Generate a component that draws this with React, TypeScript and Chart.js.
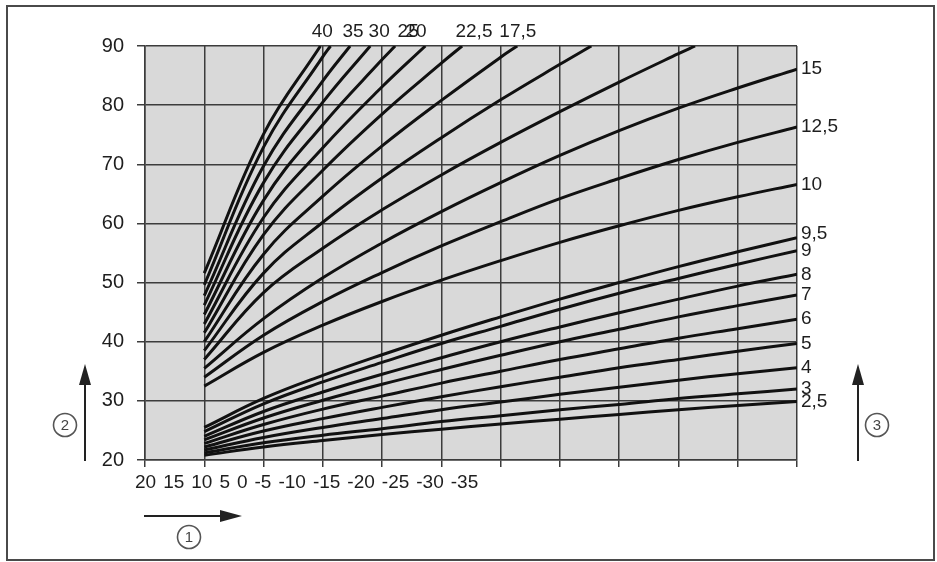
import React, { useEffect, useRef } from "react";
import { Chart, registerables } from "chart.js";

Chart.register(...registerables);

// ---------- data ----------
// x positions (grid units, 0 = left edge of the plot)
const xAt = [1, 2, 3, 4, 5, 6, 7, 8, 9, 10, 11];
const xMin = 0;
const xMax = 11;
const yMin = 20;
const yMax = 90;
const yStep = 10;

// outdoor temperature labels under the x axis
const bottomTickLabels = ["20", "15", "10", "5", "0", "-5", "-10", "-15", "-20", "-25", "-30", "-35"];

// curves that end at the right edge (values at xAt)
const c2_5 = [20.8, 22.2, 23.3, 24.3, 25.2, 26.1, 26.9, 27.7, 28.5, 29.2, 29.9];
const c3 = [21.2, 22.9, 24.2, 25.3, 26.5, 27.5, 28.5, 29.4, 30.4, 31.2, 32.0];
const c4 = [21.7, 23.8, 25.5, 27.0, 28.5, 29.8, 31.1, 32.3, 33.5, 34.6, 35.6];
const c5 = [22.2, 24.9, 27.0, 28.9, 30.7, 32.4, 34.0, 35.6, 37.0, 38.4, 39.7];
const c6 = [22.8, 26.0, 28.6, 30.8, 33.0, 35.0, 37.0, 38.8, 40.6, 42.2, 43.8];
const c7 = [23.4, 27.1, 30.1, 32.8, 35.3, 37.7, 40.0, 42.1, 44.2, 46.1, 47.9];
const c8 = [24.0, 28.2, 31.5, 34.5, 37.3, 40.0, 42.5, 44.9, 47.2, 49.4, 51.4];
const c9 = [24.8, 29.5, 33.2, 36.5, 39.7, 42.6, 45.5, 48.2, 50.7, 53.1, 55.4];
const c9_5 = [25.5, 30.4, 34.3, 37.8, 41.1, 44.2, 47.2, 50.0, 52.7, 55.2, 57.6];
const c10 = [32.5, 38.2, 42.8, 46.8, 50.4, 53.7, 56.8, 59.6, 62.2, 64.5, 66.6];
const c12_5 = [34.0, 41.1, 46.8, 51.7, 56.2, 60.3, 64.2, 67.6, 70.8, 73.7, 76.3];
const c15 = [35.5, 43.9, 50.8, 56.7, 62.0, 66.9, 71.5, 75.7, 79.5, 82.9, 86.1];

const rightSeries = [c2_5, c3, c4, c5, c6, c7, c8, c9, c9_5, c10, c12_5, c15];
const rightLabels = ["2,5", "3", "4", "5", "6", "7", "8", "9", "9,5", "10", "12,5", "15"];

// curves that leave through the top (values at xAt until they exit, then exit x at 90)
const t1 = [51.6, 75.1];
const t2 = [49.6, 72.9, 88.2];
const t3 = [47.8, 69.7, 84.1];
const t4 = [46.2, 66.9, 80.5];
const t5 = [44.6, 63.9, 76.7, 87.7];
const t6 = [43.0, 61.0, 72.8, 83.1];
const t7 = [41.5, 58.1, 69.0, 78.5, 87.1];
const t8 = [40.0, 54.8, 64.6, 73.1, 80.8, 88.1];
const t9 = [38.5, 51.6, 60.2, 67.7, 74.5, 80.9, 86.9];
const t10 = [37.0, 48.3, 55.8, 62.3, 68.2, 73.7, 78.9, 83.9, 88.7];
const topSeries = [t1, t2, t3, t4, t5, t6, t7, t8, t9, t10];
const topExitX = [2.96, 3.13, 3.46, 3.8, 4.22, 4.73, 5.35, 6.28, 7.53, 9.28];

// labels printed above the plot (centre in x grid units)
const topLabels = ["40", "35", "30", "25", "20", "22,5", "17,5"];
const topLabelAt = [2.99, 3.51, 3.95, 4.44, 4.57, 5.55, 6.29];

// ---------- style ----------
const FONT = "'Liberation Sans', Arial, Helvetica, sans-serif";
const TEXT = "#1e1e1e";
const GRID = "#3c3c3c";
const PLOT_BG = "#d9d9d9";
const CURVE = "#111111";
const rightLabelDy = [0, 0, 0, 0, 0, 0, 0, 0, -4, 0, 0, 0];

function drawCircleNum(ctx: CanvasRenderingContext2D, cx: number, cy: number, t: string) {
  ctx.beginPath();
  ctx.arc(cx, cy, 11.5, 0, Math.PI * 2);
  ctx.strokeStyle = "#555";
  ctx.lineWidth = 1.6;
  ctx.stroke();
  ctx.fillStyle = "#444";
  ctx.font = `15px ${FONT}`;
  ctx.textAlign = "center";
  ctx.textBaseline = "middle";
  ctx.fillText(t, cx, cy + 1);
}

function arrowUp(ctx: CanvasRenderingContext2D, x: number, y0: number, y1: number) {
  ctx.strokeStyle = "#222";
  ctx.fillStyle = "#222";
  ctx.lineWidth = 2;
  ctx.beginPath();
  ctx.moveTo(x, y0);
  ctx.lineTo(x, y1 + 18);
  ctx.stroke();
  ctx.beginPath();
  ctx.moveTo(x, y1);
  ctx.lineTo(x - 6, y1 + 21);
  ctx.lineTo(x + 6, y1 + 21);
  ctx.closePath();
  ctx.fill();
}

function arrowRight(ctx: CanvasRenderingContext2D, y: number, x0: number, x1: number) {
  ctx.strokeStyle = "#222";
  ctx.fillStyle = "#222";
  ctx.lineWidth = 2;
  ctx.beginPath();
  ctx.moveTo(x0, y);
  ctx.lineTo(x1 - 18, y);
  ctx.stroke();
  ctx.beginPath();
  ctx.moveTo(x1, y);
  ctx.lineTo(x1 - 22, y - 6);
  ctx.lineTo(x1 - 22, y + 6);
  ctx.closePath();
  ctx.fill();
}

const decor = {
  id: "decor",
  beforeDraw(chart: any) {
    const { ctx, chartArea: a } = chart;
    ctx.save();
    ctx.fillStyle = "#ffffff";
    ctx.fillRect(0, 0, chart.width, chart.height);
    ctx.fillStyle = PLOT_BG;
    ctx.fillRect(a.left, a.top, a.right - a.left, a.bottom - a.top);
    ctx.restore();
  },
  afterDraw(chart: any) {
    const { ctx, chartArea: a, scales } = chart;
    const xs = scales.x;
    const ys = scales.y;
    ctx.save();

    // outer frame
    ctx.strokeStyle = "#4a4a4a";
    ctx.lineWidth = 2;
    ctx.strokeRect(7, 6, 927, 554);

    // bottom x labels (printed as a run of text)
    ctx.fillStyle = TEXT;
    ctx.font = `19px ${FONT}`;
    ctx.textAlign = "left";
    ctx.textBaseline = "middle";
    let cx = a.left - 10;
    for (const t of bottomTickLabels) {
      ctx.fillText(t, cx, a.bottom + 23);
      cx += ctx.measureText(t).width + 7;
    }

    // top labels
    ctx.textAlign = "center";
    ctx.textBaseline = "middle";
    topLabels.forEach((t, i) => {
      ctx.fillText(t, xs.getPixelForValue(topLabelAt[i]), a.top - 14);
    });

    // right labels at curve ends
    ctx.textAlign = "left";
    rightLabels.forEach((t, i) => {
      const s = rightSeries[i];
      const y = ys.getPixelForValue(s[s.length - 1]) + rightLabelDy[i];
      ctx.fillText(t, a.right + 4, y);
    });

    // arrows and circled numbers
    arrowRight(ctx, a.bottom + 56, a.left - 1, a.left + 97);
    drawCircleNum(ctx, a.left + 44, a.bottom + 77, "1");
    arrowUp(ctx, 85, a.bottom + 1, a.bottom - 96);
    drawCircleNum(ctx, 65, a.bottom - 35, "2");
    arrowUp(ctx, 858, a.bottom + 1, a.bottom - 96);
    drawCircleNum(ctx, 877, a.bottom - 35, "3");

    ctx.restore();
  },
};

export default function App() {
  const ref = useRef<HTMLCanvasElement | null>(null);

  useEffect(() => {
    if (!ref.current) return;
    Chart.defaults.font.family = FONT;

    const lineStyle = {
      borderColor: CURVE,
      borderWidth: 3,
      pointRadius: 0,
      fill: false,
      tension: 0.4,
    };

    const datasets: any[] = [];
    rightSeries.forEach((s, i) => {
      datasets.push({
        label: rightLabels[i],
        data: s.map((y, k) => ({ x: xAt[k], y })),
        ...lineStyle,
      });
    });
    topSeries.forEach((s, i) => {
      datasets.push({
        label: "top" + i,
        data: s.map((y, k) => ({ x: xAt[k], y })).concat([{ x: topExitX[i], y: yMax }]),
        ...lineStyle,
      });
    });

    const chart = new Chart(ref.current, {
      type: "line",
      data: { datasets },
      options: {
        animation: false,
        responsive: false,
        devicePixelRatio: 1,
        layout: { padding: { top: 46, right: 140, bottom: 0, left: 0 } },
        plugins: { legend: { display: false }, tooltip: { enabled: false } },
        scales: {
          x: {
            type: "linear",
            min: xMin,
            max: xMax,
            ticks: { stepSize: 1, display: false },
            grid: { color: GRID, lineWidth: 1.5, tickLength: 7, drawTicks: true },
            border: { color: GRID, width: 1.5 },
            afterFit: (s: any) => {
              s.height = 102;
            },
          },
          y: {
            type: "linear",
            min: yMin,
            max: yMax,
            ticks: {
              stepSize: yStep,
              color: TEXT,
              padding: 13,
              font: { size: 20, family: FONT },
            },
            grid: { color: GRID, lineWidth: 1.5, tickLength: 8, drawTicks: true },
            border: { color: GRID, width: 1.5 },
            afterFit: (s: any) => {
              s.width = 145;
            },
          },
        },
      },
      plugins: [decor],
    } as any);

    return () => chart.destroy();
  }, []);

  return (
    <div style={{ position: "absolute", left: 0, top: 0, width: 937, height: 562 }}>
      <canvas ref={ref} width={937} height={562} style={{ display: "block" }} />
    </div>
  );
}
